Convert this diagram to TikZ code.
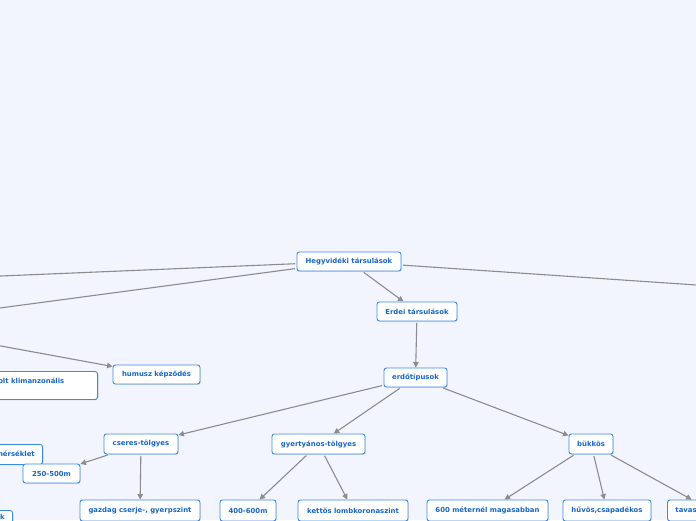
\documentclass[tikz,border=0pt]{standalone}
\usepackage{fontspec}
\setmainfont{DejaVu Sans}
\usetikzlibrary{arrows.meta,shadows}
\definecolor{bgc}{HTML}{F2F5FD}
\definecolor{txtblue}{HTML}{1766C8}
\definecolor{brdblue}{HTML}{3A8BE4}
\definecolor{linegray}{HTML}{8C8C8C}
\tikzset{
  box/.style={draw=brdblue, fill=white, line width=0.9pt, rounded corners=2.5pt,
    text=txtblue, font=\bfseries\fontsize{6.9}{8}\selectfont, inner xsep=0pt, inner ysep=0pt,
    drop shadow={shadow xshift=0.7pt, shadow yshift=-0.9pt, fill=black!22, opacity=0.6}},
  txt/.style={text=txtblue, font=\bfseries\fontsize{6.9}{8}\selectfont, inner sep=0pt},
  conn/.style={draw=linegray, line width=1.1pt, shorten <=1.5pt},
  arr/.style={conn, -{Triangle[length=5.5pt,width=5.5pt]}}
}
\begin{document}
\begin{tikzpicture}[x=1pt,y=-1pt]
\fill[bgc] (0,0) rectangle (696,520);
\useasboundingbox (0,0) rectangle (696,520);

\coordinate (offL1) at (-100,280.2);
\coordinate (offL2) at (-100,321.3);
\coordinate (offL3) at (-100,327.5);
\coordinate (offR) at (800,292.0);

\node[box, minimum width=104, minimum height=19] (heg) at (349,261.5) {Hegyvidéki társulások};
\node[box, minimum width=80, minimum height=19] (erdei) at (417,311.5) {Erdei társulások};
\node[box, minimum width=63, minimum height=19] (erdotip) at (415.5,377.5) {erdőtípusok};
\node[box, minimum width=87, minimum height=19] (humusz) at (156.5,374.5) {humusz képződés};

\node[box, anchor=north east, minimum width=160, minimum height=28] (klima) at (98,371) {};
\node[txt, anchor=east] (klimat) at (64.5,381) {olt klimanzonális};
\node[box, anchor=north east, minimum width=110, minimum height=20] (mers) at (43,444) {};
\node[txt, anchor=east] (merst) at (35,454) {mérséklet};
\node[box, anchor=north east, minimum width=80, minimum height=22] (blbox) at (13,510) {};
\node[txt, anchor=north east] (blt) at (5,514) {k};

\node[box, minimum width=74, minimum height=20] (cseres) at (141,444) {cseres-tölgyes};
\node[box, minimum width=93, minimum height=20] (gyert) at (318.5,444) {gyertyános-tölgyes};
\node[box, minimum width=44, minimum height=20] (bukkos) at (591,444) {bükkös};
\node[box, minimum width=57, minimum height=19] (m250) at (51.5,473.5) {250-500m};

\node[box, minimum width=120, minimum height=21] (gazdag) at (140,510.5) {gazdag cserje-, gyerpszint};
\node[box, minimum width=56, minimum height=21] (m400) at (248,510.5) {400-600m};
\node[box, minimum width=110, minimum height=21] (kettos) at (353,510.5) {kettős lombkoronaszint};
\node[box, minimum width=121, minimum height=21] (m600) at (487.5,510.5) {600 méternél magasabban};
\node[box, minimum width=88, minimum height=21] (huvos) at (607,510.5) {hűvös,csapadékos};
\node[box, anchor=west, minimum height=21, text width=72, align=left, inner xsep=8pt] (tavas) at (667,510.5) {tavas};

\draw[conn] (heg) -- (offL1);
\draw[conn] (heg) -- (offL2);
\draw[conn] (heg) -- (offR);
\draw[arr] (offL3) -- (humusz);
\draw[arr] (heg) -- (erdei);
\draw[arr] (erdei) -- (erdotip);
\draw[arr] (erdotip) -- (cseres);
\draw[arr] (erdotip) -- (gyert);
\draw[arr] (erdotip) -- (bukkos);
\draw[arr] (cseres) -- (m250);
\draw[arr] (cseres) -- (gazdag);
\draw[arr] (gyert) -- (m400);
\draw[arr] (gyert) -- (kettos);
\draw[arr] (bukkos) -- (m600);
\draw[arr] (bukkos) -- (huvos);
\draw[arr] (bukkos) -- (tavas);
\end{tikzpicture}
\end{document}
